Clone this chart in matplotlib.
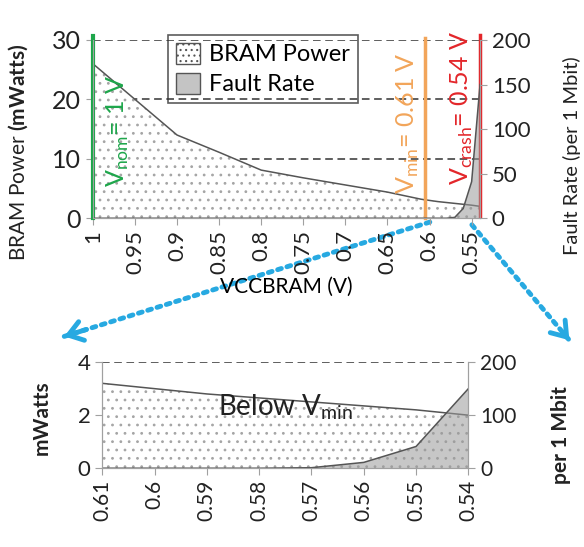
import matplotlib
matplotlib.use("Agg")
import matplotlib.pyplot as plt
from matplotlib.patches import Patch, FancyArrowPatch

plt.rcParams['font.family'] = ['Lato', 'DejaVu Sans']
plt.rcParams['mathtext.fontset'] = 'custom'
plt.rcParams['mathtext.rm'] = 'Lato'
plt.rcParams['mathtext.bf'] = 'Lato:bold'
plt.rcParams['hatch.linewidth'] = 0.8
plt.rcParams['hatch.color'] = '#a5a5a5'

# Data
voltage = [1.0, 0.95, 0.9, 0.85, 0.8, 0.75, 0.7, 0.65, 0.61, 0.6, 0.59, 0.58, 0.57, 0.56, 0.55, 0.54]
power_mw = [26.0, 20.0, 14.0, 11.1, 8.1, 6.8, 5.6, 4.4, 3.2, 3.0, 2.8, 2.65, 2.5, 2.35, 2.2, 2.0]
fault_rate = [0, 0, 0, 0, 0, 0, 0, 0, 0, 0, 0, 0, 1, 11, 41, 150]

top_ticks = [1, 0.95, 0.9, 0.85, 0.8, 0.75, 0.7, 0.65, 0.6, 0.55]
top_labels = ['1', '0.95', '0.9', '0.85', '0.8', '0.75', '0.7', '0.65', '0.6', '0.55']
low_ticks = [0.61, 0.6, 0.59, 0.58, 0.57, 0.56, 0.55, 0.54]
low_labels = ['0.61', '0.6', '0.59', '0.58', '0.57', '0.56', '0.55', '0.54']

v_nom, v_min, v_crash = 1.0, 0.605, 0.54
green, orange, red, blue = '#1ea64b', '#f2a55a', '#e3262a', '#27a9e1'

fig = plt.figure(figsize=(5.84, 5.47), dpi=100)


def draw(ax, xlim, ylim, ylim2, yticks, yticks2, grid_y):
    ax2 = ax.twinx()
    ax.set_zorder(1)
    ax2.set_zorder(2)
    ax2.patch.set_visible(False)
    for y in grid_y:
        ax.axhline(y, color='#333333', ls='--', lw=1.1, zorder=0.5, dashes=(5, 3))
    ax.fill_between(voltage, power_mw, 0, facecolor='white', edgecolor='#a5a5a5',
                    hatch='..', lw=0, zorder=2)
    ax.plot(voltage, power_mw, color='#555555', lw=1.1, zorder=3)
    ax2.fill_between(voltage, fault_rate, 0, facecolor='#9a9a9a', alpha=0.55, lw=0)
    ax2.plot(voltage, fault_rate, color='#555555', lw=1.1)
    ax.set_xlim(*xlim)
    ax.set_ylim(*ylim)
    ax2.set_ylim(*ylim2)
    ax.set_yticks(yticks)
    ax2.set_yticks(yticks2)
    for a in (ax, ax2):
        a.spines['top'].set_visible(False)
        for s in ('left', 'right', 'bottom'):
            a.spines[s].set_color('#a0a0a0')
        a.tick_params(colors='#a0a0a0', labelcolor='#222222', direction='out', length=5)
    return ax2


# Top chart
ax = fig.add_axes([0.159, 0.601, 0.663, 0.326])
ax2 = draw(ax, (1.0, 0.54), (0, 30), (0, 200), [0, 10, 20, 30], [0, 50, 100, 150, 200], [10, 20, 30])
ax.set_xticks(top_ticks)
ax.set_xticklabels(top_labels, rotation=90)
ax.tick_params(axis='x', labelsize=16)
ax.tick_params(axis='y', labelsize=18)
ax2.tick_params(axis='y', labelsize=16)
ax.set_xlabel('VCCBRAM (V)', fontsize=15, labelpad=2)
fig.text(18 / 584, 1 - 152 / 547, r'BRAM Power $\bf{(mWatts)}$', fontsize=15,
         rotation=90, ha='center', va='center', color='#222222')
fig.text(572 / 584, 1 - 156 / 547, 'Fault Rate (per 1 Mbit)', fontsize=14.5,
         rotation=90, ha='center', va='center', color='#222222')

ax.axvline(v_nom, ymin=0, ymax=1.02, color=green, lw=3, clip_on=False, zorder=5)
ax.axvline(v_min, ymin=0, ymax=1.01, color=orange, lw=2.5, clip_on=False, zorder=5)
ax.axvline(v_crash, ymin=0.01, ymax=1.03, color=red, lw=2.5, clip_on=False, zorder=5)
ax.text(0.970, 14.8, r'V$_{\rm nom}$= 1 V', rotation=90, color=green, fontsize=18,
        ha='center', va='center', zorder=6)
ax.text(0.626, 16.0, r'V$_{\rm min}$= 0.61 V', rotation=90, color=orange, fontsize=18,
        ha='center', va='center', zorder=6)
ax.text(0.561, 18.5, r'V$_{\rm crash}$= 0.54 V', rotation=90, color=red, fontsize=18,
        ha='center', va='center', zorder=6, clip_on=False)

handles = [Patch(facecolor='white', edgecolor='#555555', hatch='...', label='BRAM Power'),
           Patch(facecolor='#c4c4c4', edgecolor='#555555', label='Fault Rate')]
leg = ax.legend(handles=handles, loc='upper left', bbox_to_anchor=(0.194, 1.03),
                fontsize=17, frameon=True, fancybox=False,
                edgecolor='#333333', handlelength=1.0, handleheight=1.0,
                borderpad=0.35, labelspacing=0.3, handletextpad=0.4, borderaxespad=0)
leg.get_frame().set_facecolor('none')
leg.get_frame().set_linewidth(1.2)
leg.set_zorder(10)

# Bottom chart
bx = fig.add_axes([0.175, 0.144, 0.627, 0.194])
bx2 = draw(bx, (0.61, 0.54), (0, 4), (0, 200), [0, 2, 4], [0, 100, 200], [4])
bx.set_xticks(low_ticks)
bx.set_xticklabels(low_labels, rotation=90)
bx.tick_params(axis='x', labelsize=15)
bx.tick_params(axis='y', labelsize=16)
bx2.tick_params(axis='y', labelsize=15)
fig.text(42 / 584, 1 - 418 / 547, 'mWatts', fontsize=15, fontweight='bold',
         rotation=90, ha='center', va='center', color='#222222')
fig.text(561 / 584, 1 - 435 / 547, 'per 1 Mbit', fontsize=15, fontweight='bold',
         rotation=90, ha='center', va='center', color='#222222')
bx.text(0.5, 0.58, r'Below V$_{\rm min}$', transform=bx.transAxes, fontsize=20,
        ha='center', va='center', color='#222222', zorder=6)

# Zoom arrows
for start, end in [((0.736, 0.594), (0.110, 0.385)), ((0.808, 0.589), (0.975, 0.378))]:
    fig.add_artist(FancyArrowPatch(
        start, end, transform=fig.transFigure, arrowstyle='-', color=blue,
        lw=3.5, linestyle=(0, (0.8, 1.2)), shrinkA=0, shrinkB=0))
    dx, dy = end[0] - start[0], end[1] - start[1]
    tail = (end[0] - 0.06 * dx, end[1] - 0.06 * dy)
    fig.add_artist(FancyArrowPatch(
        tail, end, transform=fig.transFigure, arrowstyle='->,head_length=0.5,head_width=0.35',
        color=blue, lw=3.5, shrinkA=0, shrinkB=0, mutation_scale=20))

fig.savefig('out.png', dpi=100)
